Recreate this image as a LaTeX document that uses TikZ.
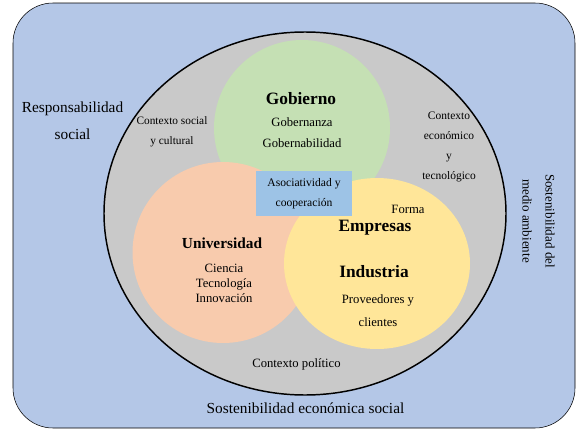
\documentclass[tikz,border=0pt]{standalone}
\usepackage{fontspec}
\setmainfont{Liberation Serif}
\usepackage{tikz}
\newcommand{\pixelsize}{0.75pt}
\newcommand{\figfont}[2]{\fontsize{#1}{#2}\selectfont}
\definecolor{outerblue}{RGB}{180,199,231}
\definecolor{ringgray}{RGB}{201,201,201}
\definecolor{govgreen}{RGB}{197,224,180}
\definecolor{unipeach}{RGB}{248,203,173}
\definecolor{indyellow}{RGB}{255,230,153}
\definecolor{boxblue}{RGB}{157,195,230}
\newcommand{\makeset}[6]{
	\coordinate (#1) at (#2,#3);
	\fill[#6] (#1) ellipse [x radius=#4, y radius=#5];
}

\begin{document}
\begin{tikzpicture}[x=\pixelsize,y=-\pixelsize]
	\useasboundingbox (0,0) rectangle (578,432);
	\draw[fill=outerblue, rounded corners=30pt] (13,3) rectangle (575,428);
	\draw[fill=ringgray, line width=1.1pt] (305,213.5) ellipse [x radius=201, y radius=181.5];

	\makeset{G}{302}{128}{88}{88}{govgreen}
	\makeset{U}{223}{252.5}{90.5}{90.5}{unipeach}
	\makeset{E}{377}{263.5}{93}{85.5}{indyellow}

	\node[fill=boxblue, minimum width=72pt, minimum height=33.75pt, align=center, font=\figfont{8.7}{15}] (asoc) at (304,193.5) {Asociatividad y\\cooperación};

	\node[align=center, font=\figfont{11.5}{20.25}] (resp) at (72.5,120.5) {Responsabilidad\\social};
	\node[align=center, font=\figfont{8.5}{15}] (social) at (172,132) {Contexto social\\y cultural};
	\node[align=center, font=\figfont{8.6}{15}] (econ) at (449,147) {Contexto\\económico\\y\\tecnológico};
	\node[align=center, font=\figfont{9.8}{17.25}, rotate=-90] (medio) at (538.5,221) {Sostenibilidad del\\medio ambiente};

	\node[font=\bfseries\figfont{13}{15}] (gob) at (301,99) {Gobierno};
	\node[align=center, font=\figfont{9.5}{15.75}] (gobtxt) at (302,132.5) {Gobernanza\\Gobernabilidad};

	\node[font=\bfseries\figfont{11.5}{14}] (uni) at (222,243) {Universidad};
	\node[align=center, font=\figfont{9.5}{11.25}] (unitxt) at (224,283) {Ciencia\\Tecnología\\Innovación};

	\node[font=\figfont{9.5}{12}] (forma) at (408,209) {Forma};
	\node[font=\bfseries\figfont{13}{15}] (emp) at (375,228) {Empresas};
	\node[font=\bfseries\figfont{13}{15}] (ind) at (374,272) {Industria};
	\node[align=center, font=\figfont{9.5}{17.25}] (prov) at (378,310.5) {Proveedores y\\clientes};

	\node[font=\figfont{9.5}{12}] (pol) at (296.5,364) {Contexto político};
	\node[font=\figfont{11.5}{14}] (sost) at (305.5,408) {Sostenibilidad económica social};
\end{tikzpicture}
\end{document}
